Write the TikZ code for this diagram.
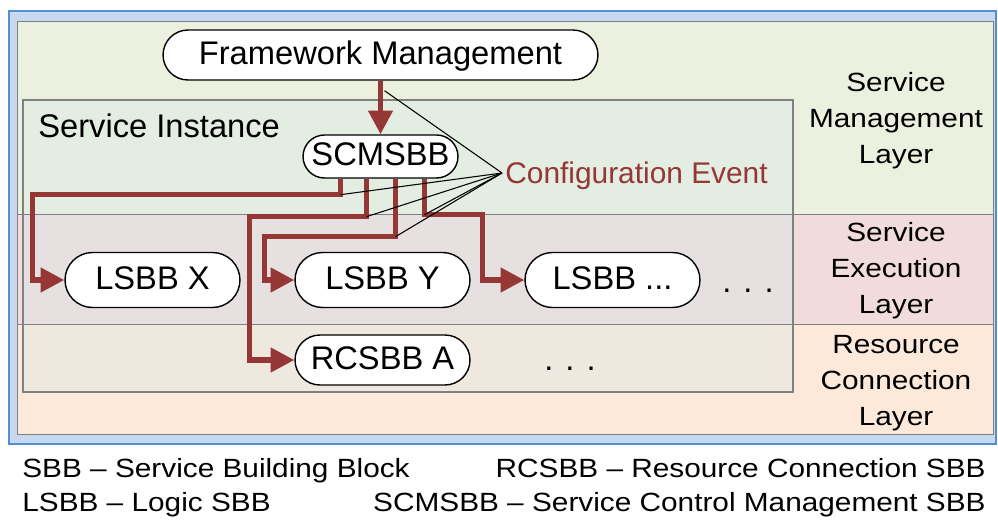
\documentclass[tikz,border=0pt]{standalone}
\usepackage{fontspec}
\setmainfont{Liberation Sans}
\newfontfamily\widesans[FakeStretch=1.13]{Liberation Sans}
\usepackage{xcolor}
\usetikzlibrary{shapes.misc, arrows.meta, positioning}

\definecolor{framefill}{HTML}{C6D9F1}
\definecolor{framedge}{HTML}{558ED5}
\definecolor{mgmtcol}{HTML}{EBF1DE}
\definecolor{execcol}{HTML}{F2DCDB}
\definecolor{rescol}{HTML}{FDE9D9}
\definecolor{instcol}{HTML}{D8E8E8}
\definecolor{laygray}{HTML}{808080}
\definecolor{flowred}{HTML}{953735}

\begin{document}
\begin{tikzpicture}[x=0.02cm, y=-0.02cm,
  sbb/.style={draw, line width=0.8pt, fill=white, rounded rectangle, inner sep=0pt,
    font=\fontsize{18.6}{22}\selectfont, text height=14pt, text depth=3.7pt},
  flow/.style={draw=flowred, line width=3pt, -{Triangle[length=13.5pt,width=13.5pt]}},
  evt/.style={black, line width=0.6pt},
  layerlbl/.style={align=center, inner sep=0pt, font=\widesans\fontsize{15}{20.5}\selectfont},
  legend/.style={inner sep=0pt, font=\widesans\fontsize{15}{18}\selectfont}]
  \useasboundingbox (0,0) rectangle (998,521);
  % frame and layers
  \draw[draw=framedge, fill=framefill, line width=1.5pt] (9,11) rectangle (996,444);
  \foreach \top/\bot/\col in {21/214/mgmtcol, 214/324/execcol, 324/434/rescol}
    \fill[\col] (17,\top) rectangle (993,\bot);
  \draw[laygray, line width=0.6pt, fill=instcol, fill opacity=0.4] (23,100) rectangle (793,392);
  \draw[laygray, line width=0.5pt] (17,21) rectangle (993,434);
  \draw[laygray, line width=0.5pt] (17,214) -- (993,214) (17,324) -- (993,324);
  % layer names
  \foreach \n/\y/\lbl in {mgmt/121/{Service\\Management\\Layer},
                          exec/271/{Service\\Execution\\Layer},
                          res/383/{Resource\\Connection\\Layer}}
    \node[layerlbl] (lay\n) at (896,\y) {\lbl};
  \node[anchor=base west, inner sep=0pt, font=\fontsize{18.6}{22}\selectfont] (inst) at (38,137) {Service Instance};
  % building blocks
  \node[sbb, minimum width=8.7cm, minimum height=1cm] (fm) at (380.5,55) {Framework Management};
  \node[sbb, minimum width=3.1cm, minimum height=0.86cm] (scm) at (380.5,156.5) {SCMSBB};
  \node[sbb, minimum width=3.5cm, minimum height=1.1cm] (lx) at (152.5,280) {LSBB X};
  \node[sbb, minimum width=3.5cm, minimum height=1.1cm] (ly) at (382.5,280) {LSBB Y};
  \node[sbb, minimum width=3.5cm, minimum height=1.1cm] (lmore) at (612.5,280) {LSBB ...};
  \node[sbb, minimum width=3.5cm, minimum height=1cm] (ra) at (382.5,360) {RCSBB A};
  \node[anchor=base, inner sep=0pt, font=\fontsize{18.6}{22}\selectfont] (dotsx) at (748,292) {. . .};
  \node[anchor=base, inner sep=0pt, font=\fontsize{18.6}{22}\selectfont] (dotsr) at (570,370) {. . .};
  % bends
  \coordinate (k1) at ([xshift=-0.8cm,yshift=-0.32cm]scm.south);
  \coordinate (k2) at ([xshift=-0.28cm,yshift=-0.76cm]scm.south);
  \coordinate (k3) at ([xshift=0.3cm,yshift=-1.16cm]scm.south);
  \coordinate (k4) at ([xshift=0.88cm,yshift=-0.72cm]scm.south);
  % configuration flows
  \draw[flow] (fm.south) -- (scm.north);
  \foreach \k/\tgt/\off in {k1/lx/-0.64, k2/ra/-0.9, k3/ly/-0.6, k4/lmore/-0.84}
    \draw[flow] (scm.south -| \k) -- (\k) -| ([xshift=\off cm]\tgt.west) -- (\tgt.west);
  % event callout
  \coordinate (ce) at (502,173);
  \node[anchor=base west, inner sep=0pt, text=flowred, font=\fontsize{17}{20}\selectfont] (cfg) at (505,183) {Configuration Event};
  \draw[evt] (ce) -- ([xshift=0.08cm,yshift=-0.2cm]fm.south);
  \foreach \k in {k1,k2,k3,k4}
    \draw[evt] (ce) -- (\k);
  % legend
  \node[legend, anchor=base west] (leg1) at (22,477) {SBB \textendash{} Service Building Block};
  \node[legend, anchor=base east] (leg2) at (986,477) {RCSBB \textendash{} Resource Connection SBB};
  \node[legend, anchor=base west] (leg3) at (22,511) {LSBB \textendash{} Logic SBB};
  \node[legend, anchor=base east] (leg4) at (986,511) {SCMSBB \textendash{} Service Control Management SBB};
\end{tikzpicture}
\end{document}
